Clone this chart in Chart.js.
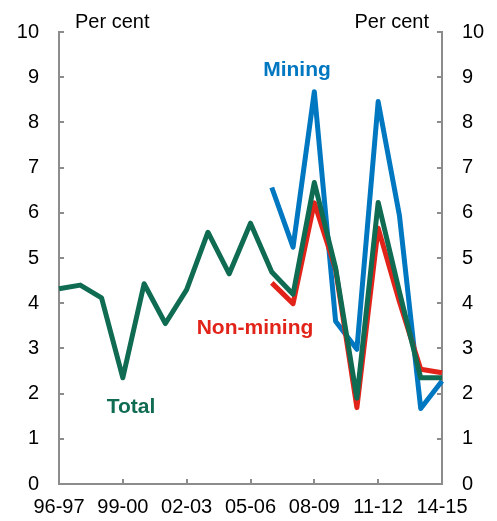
<!DOCTYPE html>
<html>
<head>
<meta charset="utf-8">
<script src="https://cdn.jsdelivr.net/npm/chart.js@4/dist/chart.umd.min.js"></script>
<style>
  html, body { margin: 0; padding: 0; background: #fff; }
</style>
</head>
<body>
<canvas id="chart" width="497" height="521"></canvas>
<script>
// financial years 96-97 .. 14-15
var years = ["96-97","97-98","98-99","99-00","00-01","01-02","02-03","03-04","04-05","05-06",
             "06-07","07-08","08-09","09-10","10-11","11-12","12-13","13-14","14-15"];
var total = [4.32, 4.40, 4.12, 2.35, 4.43, 3.55, 4.30, 5.57, 4.65, 5.77,
             4.69, 4.20, 6.67, 4.78, 1.90, 6.23, 4.25, 2.35, 2.35];
var mining = [null, null, null, null, null, null, null, null, null, null,
              6.56, 5.24, 8.68, 3.60, 2.98, 8.46, 5.94, 1.67, 2.28];
var nonMining = [null, null, null, null, null, null, null, null, null, null,
                 4.45, 3.99, 6.22, 4.75, 1.69, 5.66, 4.03, 2.54, 2.46];
var yTicks = [0, 1, 2, 3, 4, 5, 6, 7, 8, 9, 10];

var green = "#0f6b51", blue = "#0077c1", red = "#e2231a", axisGrey = "#8c8c8c";
var fontFam = "'Liberation Sans', Arial, sans-serif";

// inward tick marks + text labels
var extras = {
  id: 'extras',
  afterDraw: function (chart) {
    var ctx = chart.ctx, a = chart.chartArea;
    var y = chart.scales.y, x = chart.scales.x;
    ctx.save();
    ctx.strokeStyle = axisGrey;
    ctx.lineWidth = 2;
    yTicks.forEach(function (v) {
      var py = Math.round(y.getPixelForValue(v));
      ctx.beginPath(); ctx.moveTo(a.left, py); ctx.lineTo(a.left + 5, py); ctx.stroke();
      ctx.beginPath(); ctx.moveTo(a.right, py); ctx.lineTo(a.right - 5, py); ctx.stroke();
    });
    for (var i = 3; i < years.length - 1; i += 3) {
      var px = Math.round(x.getPixelForValue(i));
      ctx.beginPath(); ctx.moveTo(px, a.bottom); ctx.lineTo(px, a.bottom - 5); ctx.stroke();
    }

    ctx.textBaseline = 'middle';
    ctx.font = "20px " + fontFam;
    ctx.fillStyle = "#000";
    ctx.textAlign = 'left';
    ctx.fillText("Per cent", 75, 22);
    ctx.textAlign = 'right';
    ctx.fillText("Per cent", 429, 22);

    ctx.font = "bold 21px " + fontFam;
    ctx.textAlign = 'center';
    ctx.fillStyle = blue;
    ctx.fillText("Mining", 297, 70);
    ctx.fillStyle = red;
    ctx.fillText("Non-mining", 255, 328);
    ctx.fillStyle = green;
    ctx.fillText("Total", 131, 407);
    ctx.restore();
  }
};

new Chart(document.getElementById("chart"), {
  type: 'line',
  data: {
    labels: years,
    datasets: [
      { label: "Total", data: total, borderColor: green, borderWidth: 5, order: 1 },
      { label: "Non-mining", data: nonMining, borderColor: red, borderWidth: 5, order: 2 },
      { label: "Mining", data: mining, borderColor: blue, borderWidth: 5, order: 3 }
    ]
  },
  options: {
    responsive: false,
    animation: false,
    layout: { padding: { top: 28, left: 0, right: 0, bottom: 0 } },
    elements: {
      point: { radius: 0 },
      line: { tension: 0, borderJoinStyle: 'round', borderCapStyle: 'butt' }
    },
    plugins: { legend: { display: false }, tooltip: { enabled: false } },
    scales: {
      x: {
        type: 'category',
        offset: false,
        grid: { display: false, drawTicks: false },
        border: { color: axisGrey, width: 2 },
        afterFit: function (s) { s.height = 37; },
        ticks: {
          autoSkip: false,
          maxRotation: 0,
          padding: 11,
          color: "#000",
          font: { family: fontFam, size: 20 },
          callback: function (v, i) { return i % 3 === 0 ? years[i] : ''; }
        }
      },
      y: {
        position: 'left',
        min: 0, max: 10,
        grid: { display: false, drawTicks: false },
        border: { color: axisGrey, width: 2 },
        afterFit: function (s) { s.width = 59; },
        ticks: { stepSize: 1, padding: 20, color: "#000", font: { family: fontFam, size: 20 } }
      },
      y2: {
        position: 'right',
        display: true,
        min: 0, max: 10,
        grid: { display: false, drawTicks: false },
        border: { color: axisGrey, width: 2 },
        afterFit: function (s) { s.width = 55; },
        ticks: { stepSize: 1, padding: 20, color: "#000", font: { family: fontFam, size: 20 } }
      }
    }
  },
  plugins: [extras]
});
</script>
</body>
</html>
